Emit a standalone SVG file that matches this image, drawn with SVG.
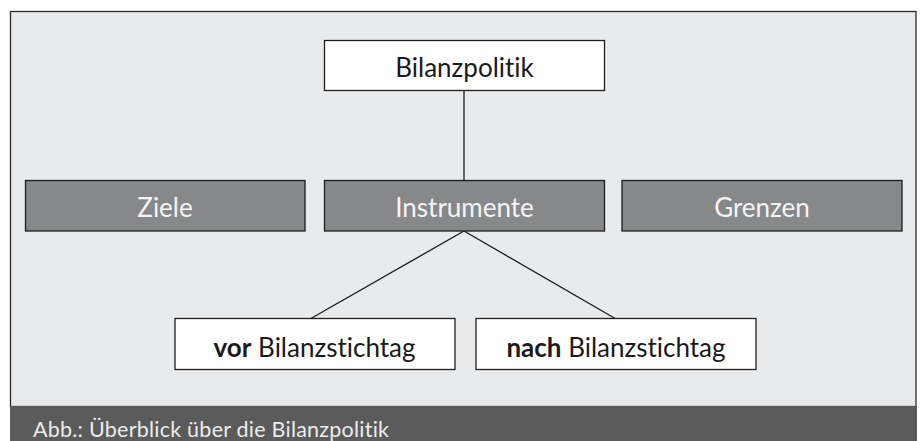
<svg xmlns="http://www.w3.org/2000/svg" width="921" height="441" viewBox="0 0 921 441">
<style>
  text { font-variant-ligatures: none; font-feature-settings: "liga" 0, "clig" 0; }
  .lbl { font-family: Lato, "Open Sans", "DejaVu Sans", sans-serif; font-size: 26px; text-anchor: middle; }
  .white { fill: #ffffff; stroke: #1e1e1e; stroke-width: 1.3; }
  .grey { fill: #87888a; stroke: #1e1e1e; stroke-width: 1.3; }
  .dark { fill: #1a1a1a; }
  .light { fill: #f4f4f4; }
  .conn line { stroke: #1a1a1a; stroke-width: 1.3; }
</style>
<rect x="0" y="0" width="921" height="441" fill="#ffffff"/>
<rect id="frame" x="10.5" y="11.5" width="905.5" height="395" fill="#e9eaec" stroke="#2a2a2a" stroke-width="1.3"/>
<g class="conn" id="connectors">
  <line x1="464" y1="90" x2="464" y2="181"/>
  <line x1="464" y1="231" x2="310" y2="319"/>
  <line x1="464" y1="231" x2="616" y2="319"/>
</g>
<g id="n-bilanzpolitik">
  <rect class="white" x="324.5" y="40.5" width="280" height="50"/>
  <text class="lbl dark" x="464.5" y="76.5">Bilanzpolitik</text>
</g>
<g id="n-ziele">
  <rect class="grey" x="25.5" y="180.5" width="279.5" height="50.5"/>
  <text class="lbl light" x="165" y="217">Ziele</text>
</g>
<g id="n-instrumente">
  <rect class="grey" x="324.5" y="180.5" width="280" height="50.5"/>
  <text class="lbl light" x="464.5" y="217">Instrumente</text>
</g>
<g id="n-grenzen">
  <rect class="grey" x="622" y="180.5" width="280" height="50.5"/>
  <text class="lbl light" x="762" y="217">Grenzen</text>
</g>
<g id="n-vor">
  <rect class="white" x="175" y="318.5" width="280" height="51"/>
  <text class="lbl dark" x="314.5" y="356.5"><tspan font-weight="bold">vor</tspan> Bilanzstichtag</text>
</g>
<g id="n-nach">
  <rect class="white" x="476" y="318.5" width="280" height="51"/>
  <text class="lbl dark" x="616" y="356.5"><tspan font-weight="bold">nach</tspan> Bilanzstichtag</text>
</g>
<g id="caption">
  <rect x="10" y="406" width="907" height="35" fill="#5a5b5a"/>
  <text x="33" y="437" font-family="Lato, 'Open Sans', sans-serif" font-size="21.5" fill="#ececec" textLength="356" lengthAdjust="spacing">Abb.: Überblick über die Bilanzpolitik</text>
</g>
</svg>
